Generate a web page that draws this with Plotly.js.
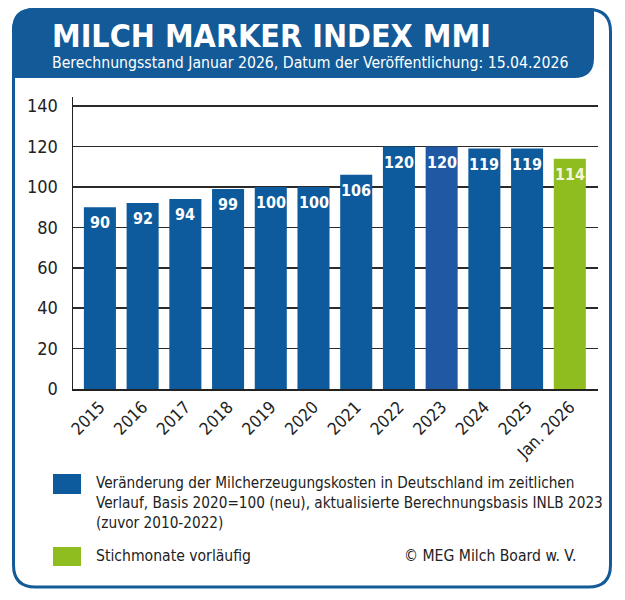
<!DOCTYPE html>
<html>
<head>
<meta charset="utf-8">
<script src="https://cdn.plot.ly/plotly-3.0.1.min.js"></script>
<style>html,body{margin:0;padding:0;background:#fff;}</style>
</head>
<body>
<div id="chart" style="width:625px;height:600px;"></div>
<script>
// ---- Data ----
const categories = ['2015','2016','2017','2018','2019','2020','2021','2022','2023','2024','2025','Jan. 2026'];
const indexValues = [90, 92, 94, 99, 100, 100, 106, 120, 120, 119, 119, 114];
const yTicks = [0, 20, 40, 60, 80, 100, 120, 140];
const titleText = 'MILCH MARKER INDEX MMI';
const subtitleText = 'Berechnungsstand Januar 2026, Datum der Veröffentlichung: 15.04.2026';
const legendMainText = 'Veränderung der Milcherzeugungskosten in Deutschland im zeitlichen<br>Verlauf, Basis 2020=100 (neu), aktualisierte Berechnungsbasis INLB 2023<br>(zuvor 2010-2022)';
const legendPrelimText = 'Stichmonate vorläufig';
const sourceText = '© MEG Milch Board w. V.';
const preliminaryCategories = ['Jan. 2026'];

// ---- Styles ----
const FONT = "'DejaVu Sans Condensed', 'Liberation Sans Narrow', sans-serif";
const BLUE = '#0d5a9c';
const BLUE_2023 = '#2058a4';
const GREEN = '#8fbc1f';
const FRAME = '#125a98';

const barColors = categories.map(c => preliminaryCategories.includes(c) ? GREEN : (c === '2023' ? BLUE_2023 : BLUE));

// plot area in pixels
const L = 73, R = 598, T = 97, B = 389;
const W = 625, H = 600;
const px = X => (X - L) / (R - L);
const py = Y => (B - Y) / (B - T);
const P = (X, Y) => px(X).toFixed(5) + ',' + py(Y).toFixed(5);

const trace = {
  type: 'bar',
  x: categories,
  y: indexValues,
  marker: {color: barColors, line: {width: 0}},
  hoverinfo: 'x+y',
  showlegend: false
};

// bar value labels, placed on the category axis by category index
const barLabels = categories.map((c, i) => ({
  xref: 'x', yref: 'y', x: i, y: indexValues[i],
  yanchor: 'top', xanchor: 'center', yshift: -4,
  text: '<b>' + indexValues[i] + '</b>', showarrow: false,
  font: {family: FONT, size: 16, color: preliminaryCategories.includes(c) ? '#f4f6dc' : '#ffffff'}
}));

// frame and header shapes
const r = 22;
const x0 = 13.5, x1 = 610.5, y0 = 9.5, y1 = 587;
const framePath = 'M' + P(x0, y0 + r) + ' Q' + P(x0, y0) + ' ' + P(x0 + r, y0) +
  ' L' + P(x1 - r, y0) + ' Q' + P(x1, y0) + ' ' + P(x1, y0 + r) +
  ' L' + P(x1, y1 - r) + ' Q' + P(x1, y1) + ' ' + P(x1 - r, y1) +
  ' L' + P(x0 + r, y1) + ' Q' + P(x0, y1) + ' ' + P(x0, y1 - r) + ' Z';
const hx0 = 12, hy0 = 8, hx1 = 594, hy1 = 78, hr = 20;
const headerPath = 'M' + P(hx0, hy0 + r) + ' Q' + P(hx0, hy0) + ' ' + P(hx0 + r, hy0) +
  ' L' + P(hx1 - 3, hy0) + ' Q' + P(hx1, hy0) + ' ' + P(hx1, hy0 + 3) +
  ' L' + P(hx1, hy1 - hr) + ' Q' + P(hx1, hy1) + ' ' + P(hx1 - hr, hy1) +
  ' L' + P(hx0, hy1) + ' Z';

const shapes = [
  {type: 'path', xref: 'paper', yref: 'paper', path: headerPath, fillcolor: FRAME, line: {width: 0}, layer: 'below'},
  {type: 'path', xref: 'paper', yref: 'paper', path: framePath, fillcolor: 'rgba(0,0,0,0)', line: {color: FRAME, width: 3}, layer: 'above'},
  {type: 'rect', xref: 'paper', yref: 'paper', x0: px(53), x1: px(81), y0: py(494), y1: py(474), fillcolor: BLUE, line: {width: 0}},
  {type: 'rect', xref: 'paper', yref: 'paper', x0: px(53), x1: px(81), y0: py(566), y1: py(547), fillcolor: GREEN, line: {width: 0}}
];

const textAnn = [
  {xref: 'paper', yref: 'paper', x: px(50), y: py(36), xanchor: 'left', yanchor: 'middle', showarrow: false,
   text: '<b>' + titleText + '</b>', font: {family: FONT, size: 32, color: '#ffffff'}},
  {xref: 'paper', yref: 'paper', x: px(50), y: py(62), xanchor: 'left', yanchor: 'middle', showarrow: false,
   text: subtitleText, font: {family: FONT, size: 15.7, color: '#ffffff'}},
  {xref: 'paper', yref: 'paper', x: px(94), y: py(472), xanchor: 'left', yanchor: 'top', align: 'left', showarrow: false,
   text: legendMainText, font: {family: FONT, size: 15.2, color: '#222222'}},
  {xref: 'paper', yref: 'paper', x: px(94), y: py(556), xanchor: 'left', yanchor: 'middle', showarrow: false,
   text: legendPrelimText, font: {family: FONT, size: 15.6, color: '#222222'}},
  {xref: 'paper', yref: 'paper', x: px(578), y: py(556), xanchor: 'right', yanchor: 'middle', showarrow: false,
   text: sourceText, font: {family: FONT, size: 15.6, color: '#222222'}}
];

const layout = {
  width: W, height: H,
  margin: {l: L, r: W - R, t: T, b: H - B, pad: 0},
  paper_bgcolor: '#ffffff', plot_bgcolor: '#ffffff',
  bargap: 0.25,
  font: {family: FONT, color: '#222222'},
  xaxis: {
    type: 'category', range: [-0.63, 11.66],
    tickangle: -45, tickfont: {family: FONT, size: 17, color: '#222222'},
    showline: true, linecolor: '#222222', linewidth: 1.5,
    showgrid: false, ticks: '', fixedrange: true
  },
  yaxis: {
    range: [0, 144.5], tickvals: yTicks, ticktext: yTicks.map(String),
    tickfont: {family: FONT, size: 18, color: '#222222'},
    showline: true, linecolor: '#222222', linewidth: 1.5,
    showgrid: true, gridcolor: '#2a2a2a', gridwidth: 1.5,
    zeroline: false,
    ticks: 'outside', ticklen: 10, tickcolor: 'rgba(0,0,0,0)', fixedrange: true
  },
  shapes: shapes,
  annotations: barLabels.concat(textAnn)
};

Plotly.newPlot('chart', [trace], layout, {displayModeBar: false, staticPlot: true});
</script>
</body>
</html>
